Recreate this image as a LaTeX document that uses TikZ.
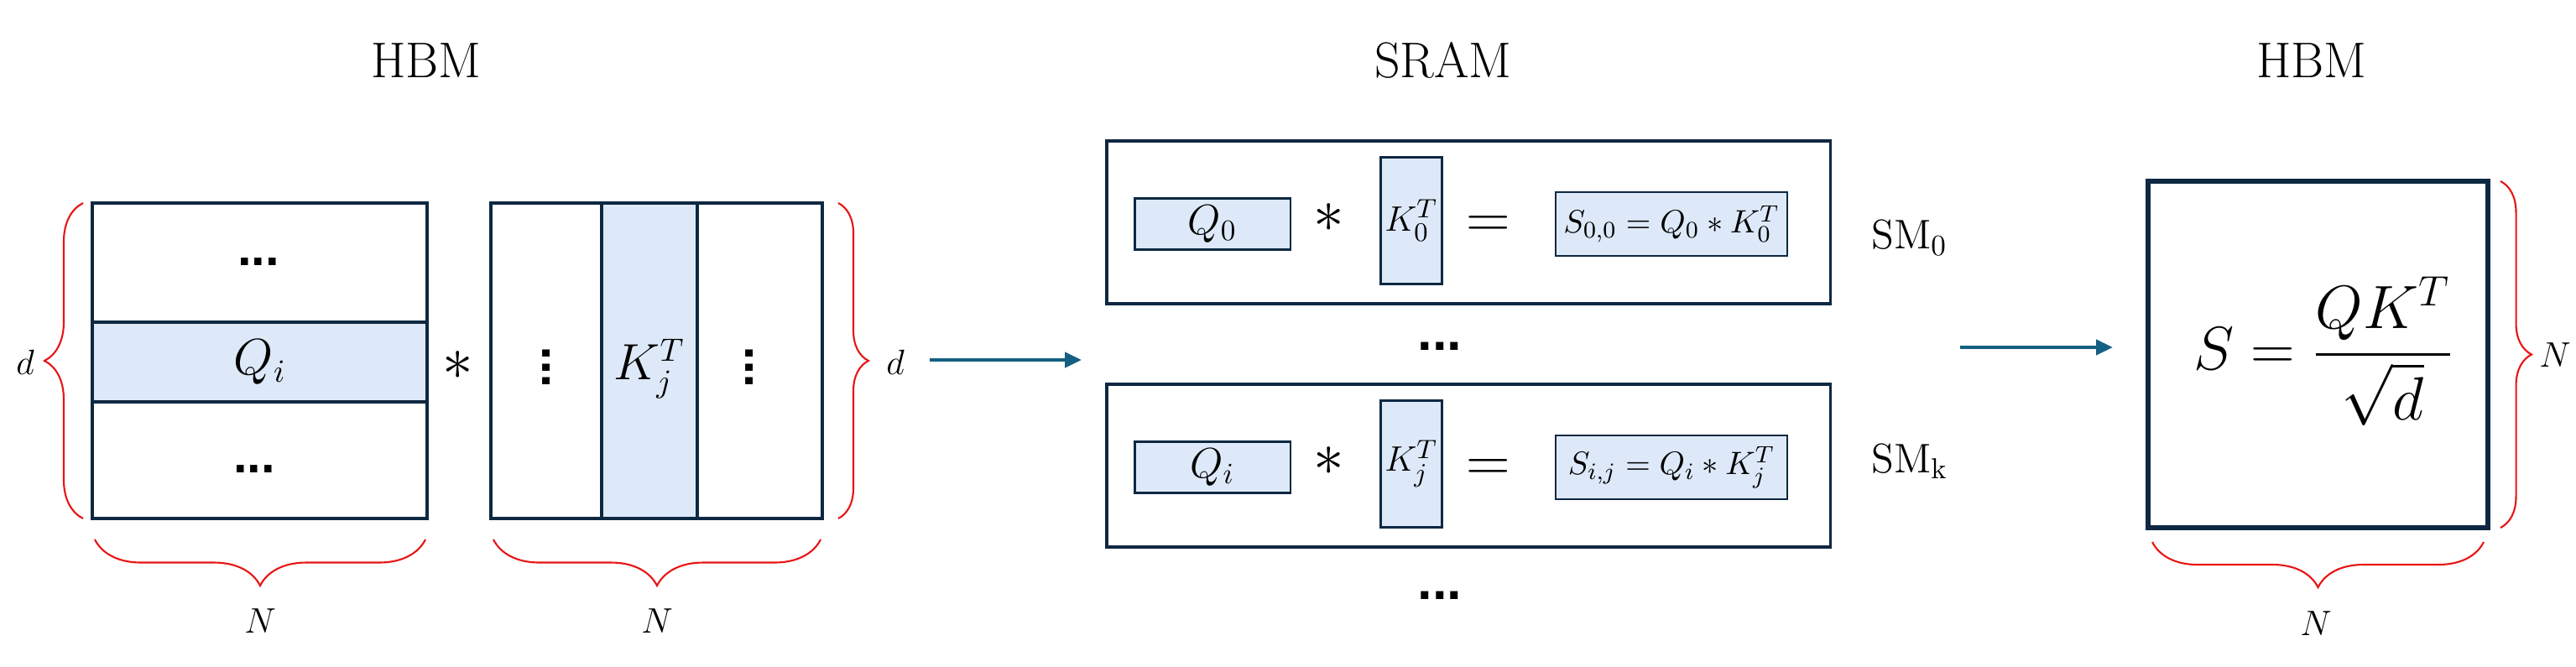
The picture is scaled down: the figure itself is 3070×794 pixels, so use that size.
\documentclass[tikz,border=0pt]{standalone}
\usepackage{amsmath,amssymb}
\usepackage{fontspec}
\newfontfamily\dotsfont{Liberation Sans}
\usepackage{tikz}
\usetikzlibrary{arrows.meta,positioning,calc,decorations.pathreplacing}
\definecolor{marco}{RGB}{14, 40, 65}
\definecolor{celeste}{RGB}{221, 233, 248}
\definecolor{azulflecha}{RGB}{21, 96, 130}
\definecolor{rojo}{RGB}{232, 20, 20}

\begin{document}
\begin{tikzpicture}[x=0.01cm,y=-0.01cm,
    grueso/.style={draw=marco,line width=1.4pt},
    caja/.style={draw=marco,fill=celeste,line width=0.6pt,inner sep=0pt},
    marcosm/.style={draw=marco,line width=1pt,minimum width=8.62cm,minimum height=1.94cm},
    titulo/.style={font=\fontsize{17}{20}\selectfont},
    etiqueta/.style={font=\fontsize{13}{15}\selectfont},
    grande/.style={font=\fontsize{16}{19}\selectfont},
    puntos/.style={font=\dotsfont\bfseries\fontsize{17}{20}\selectfont,inner sep=0pt},
    llave/.style={draw=rojo,line width=0.6pt,decorate,decoration={brace,amplitude=#1}},
    flecha/.style={draw=azulflecha,line width=1.2pt,-{Triangle[length=0.2cm,width=0.18cm]}}]
  \useasboundingbox (0,0) rectangle (3070,794);

  % titulos
  \node[titulo] (hbmA) at (508,72) {HBM};
  \node[titulo] (sram) at (1720,72) {SRAM};
  \node[titulo] (hbmB) at (2755,72) {HBM};

  % matriz Q
  \fill[celeste] (110,384) rectangle (509,479);
  \draw[grueso] (110,242) rectangle (509,618);
  \draw[grueso] (110,384) -- (509,384) (110,479) -- (509,479);
  \node[grande] (qi) at (310,432) {$Q_i$};
  \node[puntos] (qarr) at (308,312) {...};
  \node[puntos] (qaba) at (303,559) {...};

  \node[font=\fontsize{20}{24}\selectfont] (por) at (546,436) {$*$};

  % matriz K^T
  \fill[celeste] (717,242) rectangle (831,618);
  \draw[grueso] (585,242) rectangle (980,618);
  \draw[grueso] (717,242) -- (717,618) (831,242) -- (831,618);
  \node[grande] (kj) at (774,440) {$K_j^T$};
  \node[puntos,rotate=90] (kizq) at (651,438) {...};
  \node[puntos,rotate=90] (kder) at (893,438) {...};

  % llaves
  \draw[llave=0.46cm] (99,618) -- (99,242);
  \draw[llave=0.36cm] (999,242) -- (999,618);
  \draw[llave=0.55cm] (507,643) -- (113,643);
  \draw[llave=0.55cm] (978,643) -- (588,643);
  \node[etiqueta] (dA) at (30,432) {$d$};
  \node[etiqueta] (dB) at (1067,432) {$d$};
  \node[etiqueta] (nA) at (310,740) {$N$};
  \node[etiqueta] (nB) at (783,740) {$N$};

  % SRAM
  \coordinate (f1a) at (1108,429);
  \coordinate (f1b) at (1289,429);
  \draw[flecha] (f1a) -- (f1b);

  \node[marcosm] (sm0) at (1750,265) {};
  \node[caja,minimum width=1.85cm,minimum height=0.61cm,font=\fontsize{14}{16}\selectfont] (q0) at (1445,267) {$Q_0$};
  \node[font=\fontsize{20}{24}\selectfont] (por0) at (1584,260) {$*$};
  \node[caja,minimum width=0.73cm,minimum height=1.51cm,font=\fontsize{13}{15}\selectfont] (k0) at (1682,263) {$K_0^T$};
  \node[font=\fontsize{22}{26}\selectfont] (ig0) at (1774,271) {$=$};
  \node[caja,minimum width=2.76cm,minimum height=0.76cm,font=\fontsize{11}{13}\selectfont] (s0) at (1992,267) {$S_{0,0}=Q_0*K_0^T$};
  \node[etiqueta,font=\fontsize{14}{16}\selectfont,anchor=base west] (lsm0) at (2218,297) {$\mathrm{SM}_0$};

  \node[puntos,font=\dotsfont\bfseries\fontsize{18}{20}\selectfont] (pmed) at (1716,413) {...};

  \node[marcosm] (smk) at (1750,555) {};
  \node[caja,minimum width=1.85cm,minimum height=0.61cm,font=\fontsize{14}{16}\selectfont] (qk) at (1445,557) {$Q_i$};
  \node[font=\fontsize{20}{24}\selectfont] (pork) at (1584,550) {$*$};
  \node[caja,minimum width=0.73cm,minimum height=1.51cm,font=\fontsize{13}{15}\selectfont] (kk) at (1682,553) {$K_j^T$};
  \node[font=\fontsize{22}{26}\selectfont] (igk) at (1774,561) {$=$};
  \node[caja,minimum width=2.76cm,minimum height=0.76cm,font=\fontsize{11}{13}\selectfont] (sk) at (1992,557) {$S_{i,j}=Q_i*K_j^T$};
  \node[etiqueta,font=\fontsize{14}{16}\selectfont,anchor=base west] (lsmk) at (2218,563) {$\mathrm{SM}_\mathrm{k}$};

  \node[puntos,font=\dotsfont\bfseries\fontsize{18}{20}\selectfont] (pfin) at (1716,710) {...};

  % HBM resultado
  \coordinate (f2a) at (2336,414);
  \coordinate (f2b) at (2518,414);
  \draw[flecha] (f2a) -- (f2b);

  \draw[draw=marco,line width=1.7pt] (2560,216) rectangle (2965,629);
  \node[font=\fontsize{20}{24}\selectfont] (form) at (2769,419) {$\displaystyle S=\frac{QK^T}{\sqrt{d}}$};
  \draw[llave=0.37cm] (2980,216) -- (2980,629);
  \draw[llave=0.54cm] (2960,646) -- (2565,646);
  \node[etiqueta] (nC) at (3045,423) {$N$};
  \node[etiqueta] (nD) at (2760,743) {$N$};
\end{tikzpicture}
\end{document}
